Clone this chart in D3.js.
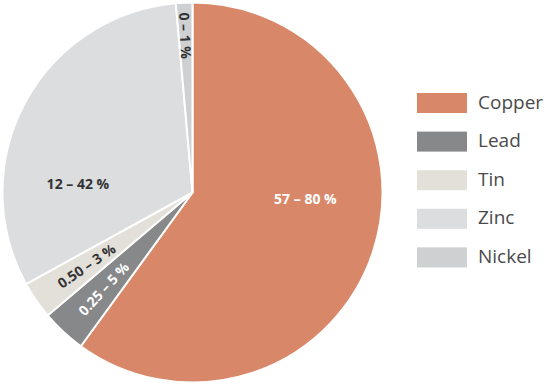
<!DOCTYPE html>
<html>
<head>
<meta charset="utf-8">
<script src="https://cdn.jsdelivr.net/npm/d3@7"></script>
<style>
  body { margin: 0; background: #fff; }
  text { font-family: "Open Sans", sans-serif; }
</style>
</head>
<body>
<script>
// metals in the alloy, share of the pie
const metals = ["Copper", "Lead", "Tin", "Zinc", "Nickel"];
const shares = [60.0, 3.8, 3.2, 31.6, 1.4];
const ranges = ["57 – 80 %", "0.25 – 5 %", "0.50 – 3 %", "12 – 42 %", "0 – 1 %"];
const colors = ["#d88868", "#87888a", "#e3e0d9", "#dcdddf", "#cfd0d2"];

const w = 546, h = 385;
const cx = 192.5, cy = 192.5, r = 190;

const svg = d3.select("body").append("svg")
  .attr("width", w)
  .attr("height", h);

const data = metals.map((m, i) => ({ metal: m, value: shares[i], label: ranges[i], color: colors[i] }));

const pie = d3.pie().value(d => d.value).sort(null);
const arcs = pie(data);
const arc = d3.arc().innerRadius(0).outerRadius(r);

const g = svg.append("g").attr("transform", `translate(${cx},${cy})`);

g.selectAll("path")
  .data(arcs)
  .enter()
  .append("path")
  .attr("d", arc)
  .attr("fill", d => d.data.color)
  .attr("stroke", "#fff")
  .attr("stroke-width", 2);

// label placement: flat labels for the big slices, radial ones for the thin slices
const labelStyle = {
  Copper: { ang: 92.8, rad: 113, rot: false, fill: "#fff" },
  Zinc:   { ang: 274.7, rad: 115, rot: false, fill: "#333" },
  Lead:   { rad: 131, rot: true, fill: "#fff" },
  Tin:    { rad: 129, rot: true, fill: "#333" },
  Nickel: { rad: 157, rot: true, fill: "#333" }
};

g.selectAll("text.lbl")
  .data(arcs)
  .enter()
  .append("text")
  .attr("class", "lbl")
  .attr("transform", d => {
    const s = labelStyle[d.data.metal];
    const a = s.ang !== undefined ? s.ang * Math.PI / 180 : (d.startAngle + d.endAngle) / 2;
    const x = s.rad * Math.sin(a), y = -s.rad * Math.cos(a);
    if (!s.rot) return `translate(${x},${y})`;
    // read from the rim towards the centre
    const deg = Math.atan2(Math.cos(a), -Math.sin(a)) * 180 / Math.PI;
    return `translate(${x},${y}) rotate(${deg})`;
  })
  .attr("text-anchor", "middle")
  .attr("dominant-baseline", "central")
  .attr("font-size", 14)
  .attr("font-weight", 700)
  .attr("fill", d => labelStyle[d.data.metal].fill)
  .text(d => d.data.label);

// legend
const legend = svg.append("g").attr("transform", "translate(417,93)");
const y = d3.scaleBand().domain(metals).range([0, 193]).paddingInner(0);

const item = legend.selectAll("g")
  .data(data)
  .enter()
  .append("g")
  .attr("transform", d => `translate(0,${y(d.metal)})`);

item.append("rect")
  .attr("width", 50)
  .attr("height", 20)
  .attr("fill", d => d.color);

item.append("text")
  .attr("x", 61)
  .attr("y", 15.5)
  .attr("font-size", 19)
  .attr("fill", "#4a4a4a")
  .text(d => d.metal);
</script>
</body>
</html>
